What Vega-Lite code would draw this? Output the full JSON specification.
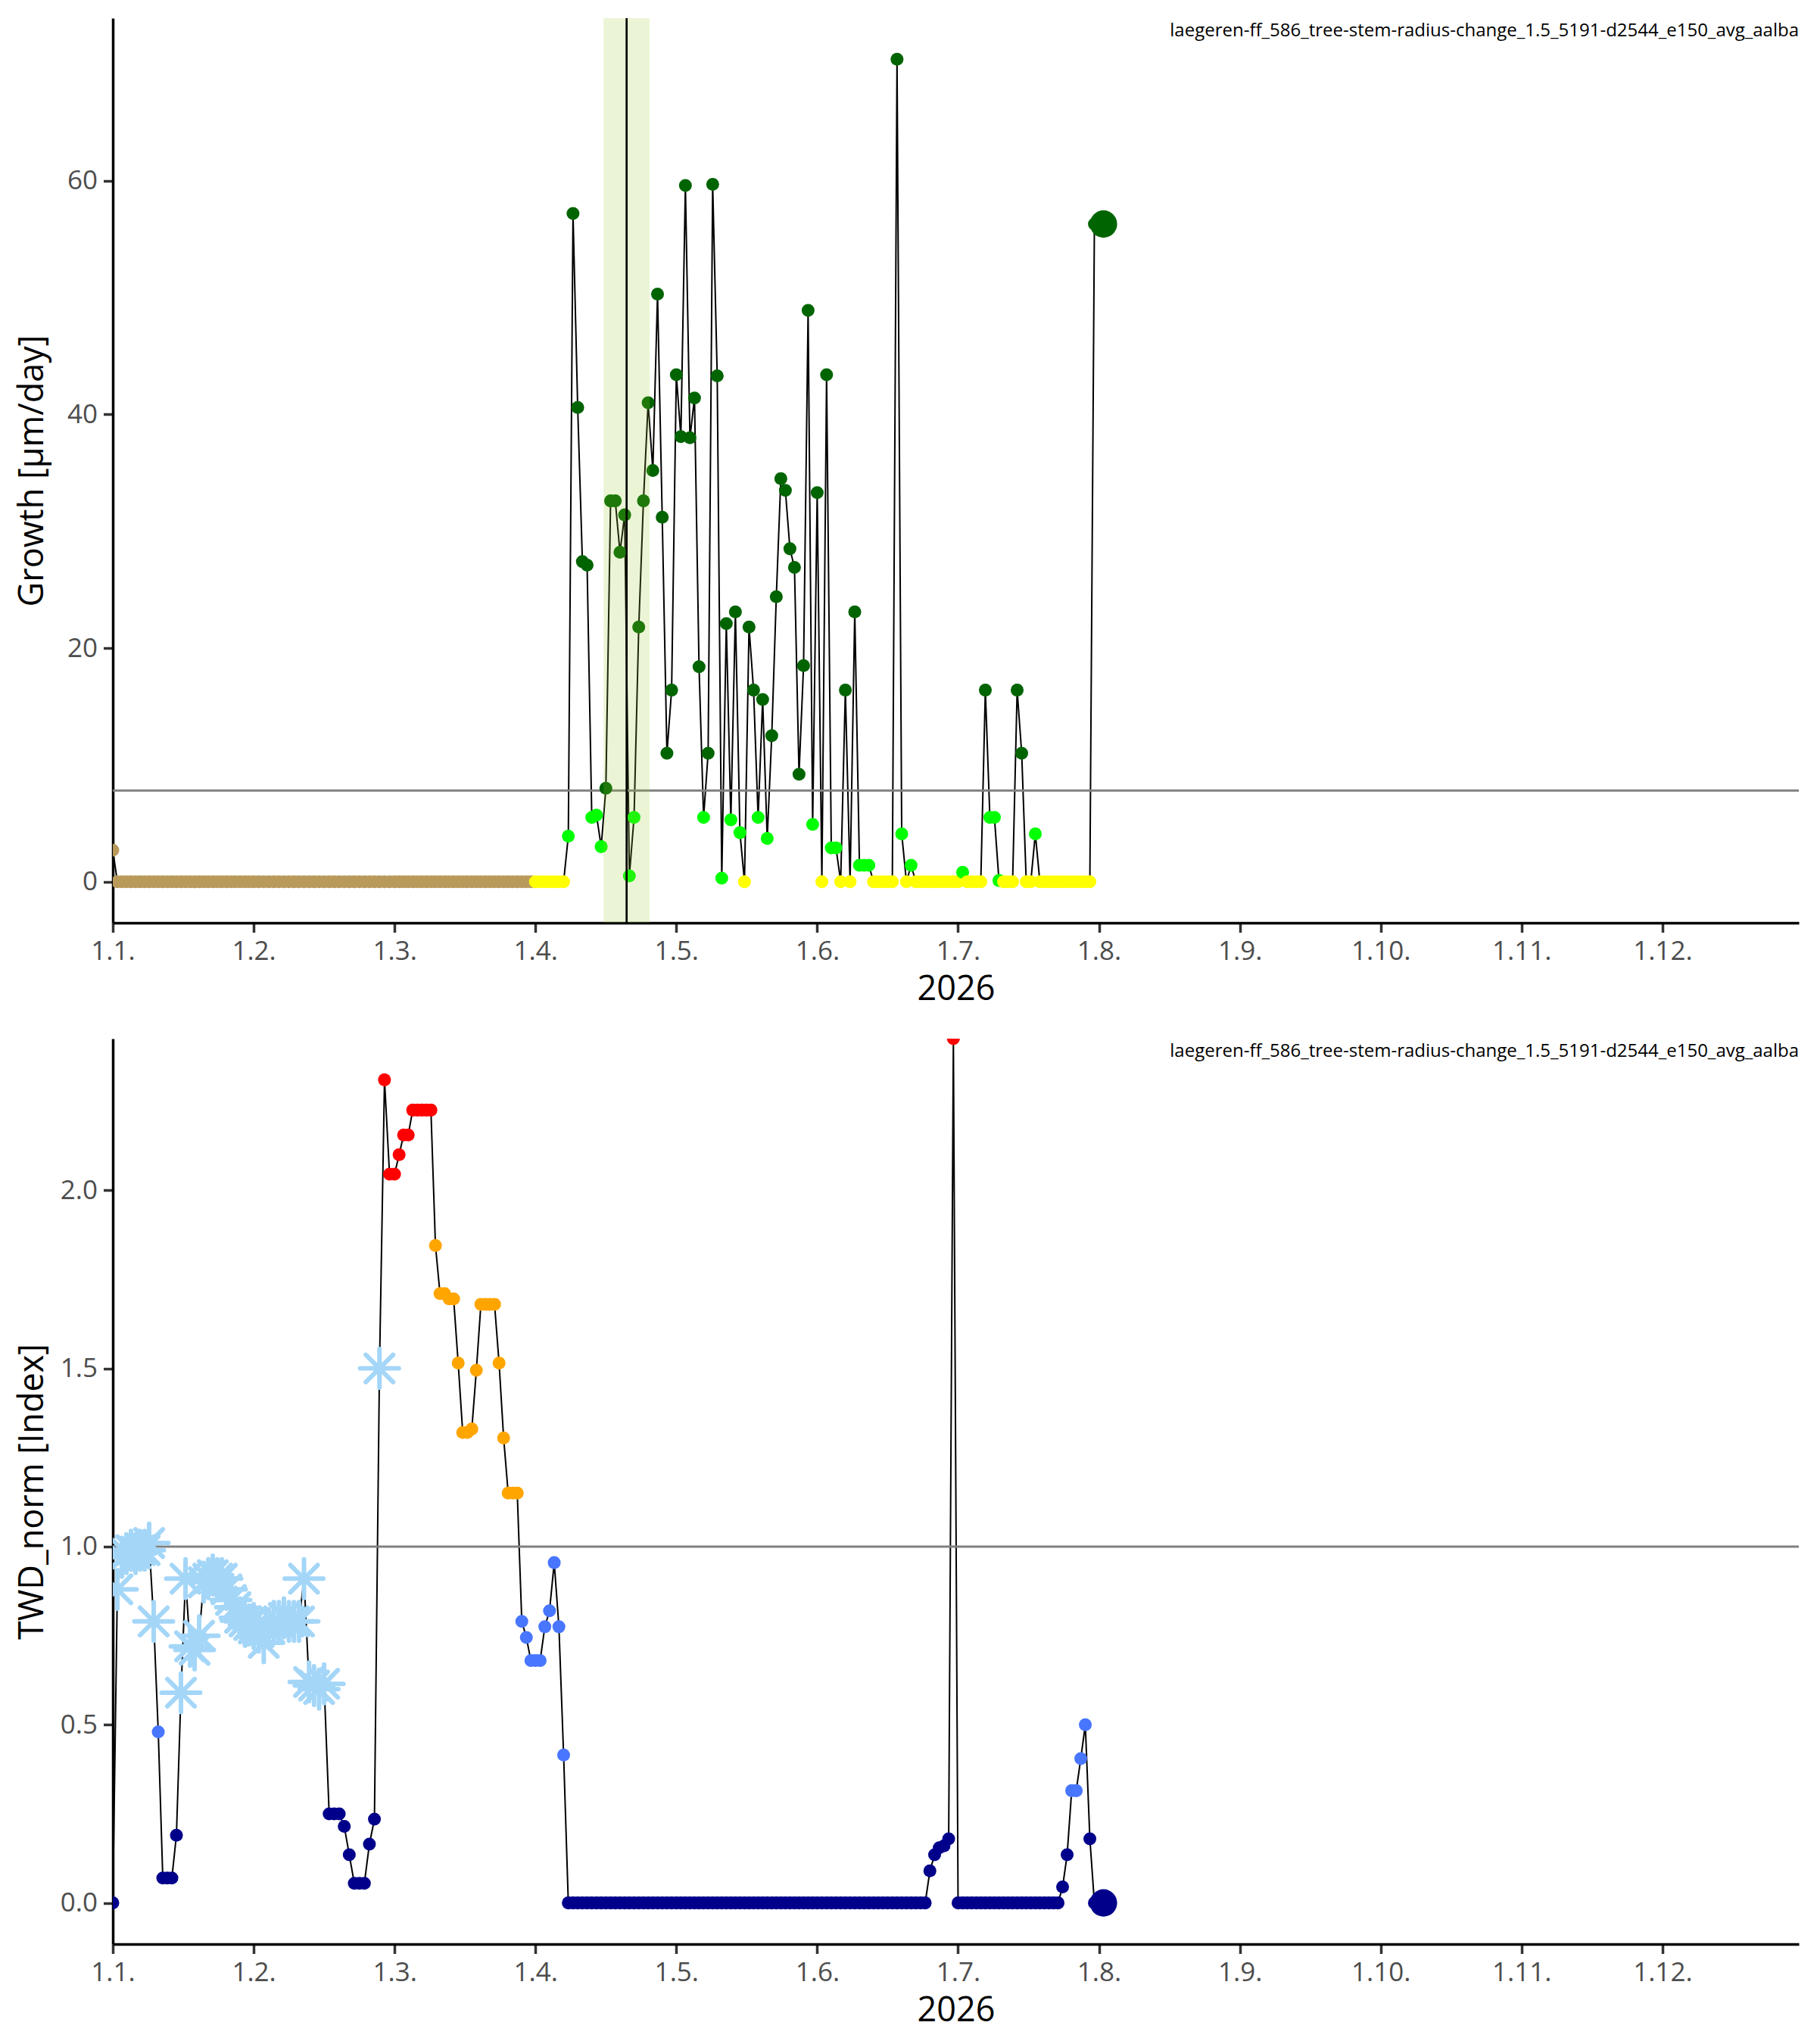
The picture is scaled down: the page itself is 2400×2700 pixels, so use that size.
{
  "$schema": "https://vega.github.io/schema/vega-lite/v6.json",
  "background": "white",
  "padding": {"left": 20, "top": 22, "right": 5, "bottom": 5},
  "spacing": 42,
  "config": {
    "view": {"stroke": null},
    "font": "Open Sans",
    "axis": {
      "grid": false,
      "domainColor": "black",
      "domainWidth": 3.5,
      "tickColor": "#333333",
      "tickWidth": 3.5,
      "tickSize": 12.5,
      "labelColor": "#4d4d4d",
      "labelFontSize": 35,
      "labelPadding": 8,
      "titleColor": "black",
      "titleFontSize": 45,
      "titleFontWeight": "normal"
    }
  },
  "resolve": {"scale": {"color": "independent"}},
  "datasets": {
    "days": [
      {"d":"2026-01-01","g":2.7,"gc":"dormant","t":0,"tc":"low"},
      {"d":"2026-01-02","g":0,"gc":"dormant","t":0.88,"tc":"frost"},
      {"d":"2026-01-03","g":0,"gc":"dormant","t":0.97,"tc":"frost"},
      {"d":"2026-01-04","g":0,"gc":"dormant","t":0.98,"tc":"frost"},
      {"d":"2026-01-05","g":0,"gc":"dormant","t":0.99,"tc":"frost"},
      {"d":"2026-01-06","g":0,"gc":"dormant","t":0.98,"tc":"frost"},
      {"d":"2026-01-07","g":0,"gc":"dormant","t":0.99,"tc":"frost"},
      {"d":"2026-01-08","g":0,"gc":"dormant","t":0.99,"tc":"frost"},
      {"d":"2026-01-09","g":0,"gc":"dormant","t":1.01,"tc":"frost"},
      {"d":"2026-01-10","g":0,"gc":"dormant","t":0.79,"tc":"frost"},
      {"d":"2026-01-11","g":0,"gc":"dormant","t":0.48,"tc":"mid"},
      {"d":"2026-01-12","g":0,"gc":"dormant","t":0.07,"tc":"low"},
      {"d":"2026-01-13","g":0,"gc":"dormant","t":0.07,"tc":"low"},
      {"d":"2026-01-14","g":0,"gc":"dormant","t":0.07,"tc":"low"},
      {"d":"2026-01-15","g":0,"gc":"dormant","t":0.19,"tc":"low"},
      {"d":"2026-01-16","g":0,"gc":"dormant","t":0.59,"tc":"frost"},
      {"d":"2026-01-17","g":0,"gc":"dormant","t":0.91,"tc":"frost"},
      {"d":"2026-01-18","g":0,"gc":"dormant","t":0.72,"tc":"frost"},
      {"d":"2026-01-19","g":0,"gc":"dormant","t":0.71,"tc":"frost"},
      {"d":"2026-01-20","g":0,"gc":"dormant","t":0.75,"tc":"frost"},
      {"d":"2026-01-21","g":0,"gc":"dormant","t":0.9,"tc":"frost"},
      {"d":"2026-01-22","g":0,"gc":"dormant","t":0.91,"tc":"frost"},
      {"d":"2026-01-23","g":0,"gc":"dormant","t":0.92,"tc":"frost"},
      {"d":"2026-01-24","g":0,"gc":"dormant","t":0.91,"tc":"frost"},
      {"d":"2026-01-25","g":0,"gc":"dormant","t":0.91,"tc":"frost"},
      {"d":"2026-01-26","g":0,"gc":"dormant","t":0.88,"tc":"frost"},
      {"d":"2026-01-27","g":0,"gc":"dormant","t":0.85,"tc":"frost"},
      {"d":"2026-01-28","g":0,"gc":"dormant","t":0.83,"tc":"frost"},
      {"d":"2026-01-29","g":0,"gc":"dormant","t":0.8,"tc":"frost"},
      {"d":"2026-01-30","g":0,"gc":"dormant","t":0.79,"tc":"frost"},
      {"d":"2026-01-31","g":0,"gc":"dormant","t":0.78,"tc":"frost"},
      {"d":"2026-02-01","g":0,"gc":"dormant","t":0.77,"tc":"frost"},
      {"d":"2026-02-02","g":0,"gc":"dormant","t":0.76,"tc":"frost"},
      {"d":"2026-02-03","g":0,"gc":"dormant","t":0.73,"tc":"frost"},
      {"d":"2026-02-04","g":0,"gc":"dormant","t":0.77,"tc":"frost"},
      {"d":"2026-02-05","g":0,"gc":"dormant","t":0.79,"tc":"frost"},
      {"d":"2026-02-06","g":0,"gc":"dormant","t":0.79,"tc":"frost"},
      {"d":"2026-02-07","g":0,"gc":"dormant","t":0.8,"tc":"frost"},
      {"d":"2026-02-08","g":0,"gc":"dormant","t":0.79,"tc":"frost"},
      {"d":"2026-02-09","g":0,"gc":"dormant","t":0.79,"tc":"frost"},
      {"d":"2026-02-10","g":0,"gc":"dormant","t":0.79,"tc":"frost"},
      {"d":"2026-02-11","g":0,"gc":"dormant","t":0.91,"tc":"frost"},
      {"d":"2026-02-12","g":0,"gc":"dormant","t":0.62,"tc":"frost"},
      {"d":"2026-02-13","g":0,"gc":"dormant","t":0.61,"tc":"frost"},
      {"d":"2026-02-14","g":0,"gc":"dormant","t":0.6,"tc":"frost"},
      {"d":"2026-02-15","g":0,"gc":"dormant","t":0.615,"tc":"frost"},
      {"d":"2026-02-16","g":0,"gc":"dormant","t":0.25,"tc":"low"},
      {"d":"2026-02-17","g":0,"gc":"dormant","t":0.25,"tc":"low"},
      {"d":"2026-02-18","g":0,"gc":"dormant","t":0.25,"tc":"low"},
      {"d":"2026-02-19","g":0,"gc":"dormant","t":0.215,"tc":"low"},
      {"d":"2026-02-20","g":0,"gc":"dormant","t":0.135,"tc":"low"},
      {"d":"2026-02-21","g":0,"gc":"dormant","t":0.055,"tc":"low"},
      {"d":"2026-02-22","g":0,"gc":"dormant","t":0.055,"tc":"low"},
      {"d":"2026-02-23","g":0,"gc":"dormant","t":0.055,"tc":"low"},
      {"d":"2026-02-24","g":0,"gc":"dormant","t":0.165,"tc":"low"},
      {"d":"2026-02-25","g":0,"gc":"dormant","t":0.235,"tc":"low"},
      {"d":"2026-02-26","g":0,"gc":"dormant","t":1.5,"tc":"frost"},
      {"d":"2026-02-27","g":0,"gc":"dormant","t":2.31,"tc":"max"},
      {"d":"2026-02-28","g":0,"gc":"dormant","t":2.045,"tc":"max"},
      {"d":"2026-03-01","g":0,"gc":"dormant","t":2.045,"tc":"max"},
      {"d":"2026-03-02","g":0,"gc":"dormant","t":2.1,"tc":"max"},
      {"d":"2026-03-03","g":0,"gc":"dormant","t":2.155,"tc":"max"},
      {"d":"2026-03-04","g":0,"gc":"dormant","t":2.155,"tc":"max"},
      {"d":"2026-03-05","g":0,"gc":"dormant","t":2.225,"tc":"max"},
      {"d":"2026-03-06","g":0,"gc":"dormant","t":2.225,"tc":"max"},
      {"d":"2026-03-07","g":0,"gc":"dormant","t":2.225,"tc":"max"},
      {"d":"2026-03-08","g":0,"gc":"dormant","t":2.225,"tc":"max"},
      {"d":"2026-03-09","g":0,"gc":"dormant","t":2.225,"tc":"max"},
      {"d":"2026-03-10","g":0,"gc":"dormant","t":1.845,"tc":"high"},
      {"d":"2026-03-11","g":0,"gc":"dormant","t":1.71,"tc":"high"},
      {"d":"2026-03-12","g":0,"gc":"dormant","t":1.71,"tc":"high"},
      {"d":"2026-03-13","g":0,"gc":"dormant","t":1.695,"tc":"high"},
      {"d":"2026-03-14","g":0,"gc":"dormant","t":1.695,"tc":"high"},
      {"d":"2026-03-15","g":0,"gc":"dormant","t":1.515,"tc":"high"},
      {"d":"2026-03-16","g":0,"gc":"dormant","t":1.32,"tc":"high"},
      {"d":"2026-03-17","g":0,"gc":"dormant","t":1.32,"tc":"high"},
      {"d":"2026-03-18","g":0,"gc":"dormant","t":1.33,"tc":"high"},
      {"d":"2026-03-19","g":0,"gc":"dormant","t":1.495,"tc":"high"},
      {"d":"2026-03-20","g":0,"gc":"dormant","t":1.68,"tc":"high"},
      {"d":"2026-03-21","g":0,"gc":"dormant","t":1.68,"tc":"high"},
      {"d":"2026-03-22","g":0,"gc":"dormant","t":1.68,"tc":"high"},
      {"d":"2026-03-23","g":0,"gc":"dormant","t":1.68,"tc":"high"},
      {"d":"2026-03-24","g":0,"gc":"dormant","t":1.515,"tc":"high"},
      {"d":"2026-03-25","g":0,"gc":"dormant","t":1.305,"tc":"high"},
      {"d":"2026-03-26","g":0,"gc":"dormant","t":1.15,"tc":"high"},
      {"d":"2026-03-27","g":0,"gc":"dormant","t":1.15,"tc":"high"},
      {"d":"2026-03-28","g":0,"gc":"dormant","t":1.15,"tc":"high"},
      {"d":"2026-03-29","g":0,"gc":"dormant","t":0.79,"tc":"mid"},
      {"d":"2026-03-30","g":0,"gc":"dormant","t":0.745,"tc":"mid"},
      {"d":"2026-03-31","g":0,"gc":"dormant","t":0.68,"tc":"mid"},
      {"d":"2026-04-01","g":0,"gc":"zero","t":0.68,"tc":"mid"},
      {"d":"2026-04-02","g":0,"gc":"zero","t":0.68,"tc":"mid"},
      {"d":"2026-04-03","g":0,"gc":"zero","t":0.775,"tc":"mid"},
      {"d":"2026-04-04","g":0,"gc":"zero","t":0.82,"tc":"mid"},
      {"d":"2026-04-05","g":0,"gc":"zero","t":0.955,"tc":"mid"},
      {"d":"2026-04-06","g":0,"gc":"zero","t":0.775,"tc":"mid"},
      {"d":"2026-04-07","g":0,"gc":"zero","t":0.415,"tc":"mid"},
      {"d":"2026-04-08","g":3.9,"gc":"low","t":0,"tc":"low"},
      {"d":"2026-04-09","g":57.2,"gc":"high","t":0,"tc":"low"},
      {"d":"2026-04-10","g":40.6,"gc":"high","t":0,"tc":"low"},
      {"d":"2026-04-11","g":27.4,"gc":"high","t":0,"tc":"low"},
      {"d":"2026-04-12","g":27.1,"gc":"high","t":0,"tc":"low"},
      {"d":"2026-04-13","g":5.5,"gc":"low","t":0,"tc":"low"},
      {"d":"2026-04-14","g":5.7,"gc":"low","t":0,"tc":"low"},
      {"d":"2026-04-15","g":3.0,"gc":"low","t":0,"tc":"low"},
      {"d":"2026-04-16","g":8.0,"gc":"high","t":0,"tc":"low"},
      {"d":"2026-04-17","g":32.6,"gc":"high","t":0,"tc":"low"},
      {"d":"2026-04-18","g":32.6,"gc":"high","t":0,"tc":"low"},
      {"d":"2026-04-19","g":28.2,"gc":"high","t":0,"tc":"low"},
      {"d":"2026-04-20","g":31.4,"gc":"high","t":0,"tc":"low"},
      {"d":"2026-04-21","g":0.5,"gc":"low","t":0,"tc":"low"},
      {"d":"2026-04-22","g":5.5,"gc":"low","t":0,"tc":"low"},
      {"d":"2026-04-23","g":21.8,"gc":"high","t":0,"tc":"low"},
      {"d":"2026-04-24","g":32.6,"gc":"high","t":0,"tc":"low"},
      {"d":"2026-04-25","g":41.0,"gc":"high","t":0,"tc":"low"},
      {"d":"2026-04-26","g":35.2,"gc":"high","t":0,"tc":"low"},
      {"d":"2026-04-27","g":50.3,"gc":"high","t":0,"tc":"low"},
      {"d":"2026-04-28","g":31.2,"gc":"high","t":0,"tc":"low"},
      {"d":"2026-04-29","g":11.0,"gc":"high","t":0,"tc":"low"},
      {"d":"2026-04-30","g":16.4,"gc":"high","t":0,"tc":"low"},
      {"d":"2026-05-01","g":43.4,"gc":"high","t":0,"tc":"low"},
      {"d":"2026-05-02","g":38.1,"gc":"high","t":0,"tc":"low"},
      {"d":"2026-05-03","g":59.6,"gc":"high","t":0,"tc":"low"},
      {"d":"2026-05-04","g":38.0,"gc":"high","t":0,"tc":"low"},
      {"d":"2026-05-05","g":41.4,"gc":"high","t":0,"tc":"low"},
      {"d":"2026-05-06","g":18.4,"gc":"high","t":0,"tc":"low"},
      {"d":"2026-05-07","g":5.5,"gc":"low","t":0,"tc":"low"},
      {"d":"2026-05-08","g":11.0,"gc":"high","t":0,"tc":"low"},
      {"d":"2026-05-09","g":59.7,"gc":"high","t":0,"tc":"low"},
      {"d":"2026-05-10","g":43.3,"gc":"high","t":0,"tc":"low"},
      {"d":"2026-05-11","g":0.3,"gc":"low","t":0,"tc":"low"},
      {"d":"2026-05-12","g":22.1,"gc":"high","t":0,"tc":"low"},
      {"d":"2026-05-13","g":5.3,"gc":"low","t":0,"tc":"low"},
      {"d":"2026-05-14","g":23.1,"gc":"high","t":0,"tc":"low"},
      {"d":"2026-05-15","g":4.2,"gc":"low","t":0,"tc":"low"},
      {"d":"2026-05-16","g":0,"gc":"zero","t":0,"tc":"low"},
      {"d":"2026-05-17","g":21.8,"gc":"high","t":0,"tc":"low"},
      {"d":"2026-05-18","g":16.4,"gc":"high","t":0,"tc":"low"},
      {"d":"2026-05-19","g":5.5,"gc":"low","t":0,"tc":"low"},
      {"d":"2026-05-20","g":15.6,"gc":"high","t":0,"tc":"low"},
      {"d":"2026-05-21","g":3.7,"gc":"low","t":0,"tc":"low"},
      {"d":"2026-05-22","g":12.5,"gc":"high","t":0,"tc":"low"},
      {"d":"2026-05-23","g":24.4,"gc":"high","t":0,"tc":"low"},
      {"d":"2026-05-24","g":34.5,"gc":"high","t":0,"tc":"low"},
      {"d":"2026-05-25","g":33.5,"gc":"high","t":0,"tc":"low"},
      {"d":"2026-05-26","g":28.5,"gc":"high","t":0,"tc":"low"},
      {"d":"2026-05-27","g":26.9,"gc":"high","t":0,"tc":"low"},
      {"d":"2026-05-28","g":9.2,"gc":"high","t":0,"tc":"low"},
      {"d":"2026-05-29","g":18.5,"gc":"high","t":0,"tc":"low"},
      {"d":"2026-05-30","g":48.9,"gc":"high","t":0,"tc":"low"},
      {"d":"2026-05-31","g":4.9,"gc":"low","t":0,"tc":"low"},
      {"d":"2026-06-01","g":33.3,"gc":"high","t":0,"tc":"low"},
      {"d":"2026-06-02","g":0,"gc":"zero","t":0,"tc":"low"},
      {"d":"2026-06-03","g":43.4,"gc":"high","t":0,"tc":"low"},
      {"d":"2026-06-04","g":2.9,"gc":"low","t":0,"tc":"low"},
      {"d":"2026-06-05","g":2.9,"gc":"low","t":0,"tc":"low"},
      {"d":"2026-06-06","g":0,"gc":"zero","t":0,"tc":"low"},
      {"d":"2026-06-07","g":16.4,"gc":"high","t":0,"tc":"low"},
      {"d":"2026-06-08","g":0,"gc":"zero","t":0,"tc":"low"},
      {"d":"2026-06-09","g":23.1,"gc":"high","t":0,"tc":"low"},
      {"d":"2026-06-10","g":1.4,"gc":"low","t":0,"tc":"low"},
      {"d":"2026-06-11","g":1.4,"gc":"low","t":0,"tc":"low"},
      {"d":"2026-06-12","g":1.4,"gc":"low","t":0,"tc":"low"},
      {"d":"2026-06-13","g":0,"gc":"zero","t":0,"tc":"low"},
      {"d":"2026-06-14","g":0,"gc":"zero","t":0,"tc":"low"},
      {"d":"2026-06-15","g":0,"gc":"zero","t":0,"tc":"low"},
      {"d":"2026-06-16","g":0,"gc":"zero","t":0,"tc":"low"},
      {"d":"2026-06-17","g":0,"gc":"zero","t":0,"tc":"low"},
      {"d":"2026-06-18","g":70.4,"gc":"high","t":0,"tc":"low"},
      {"d":"2026-06-19","g":4.1,"gc":"low","t":0,"tc":"low"},
      {"d":"2026-06-20","g":0,"gc":"zero","t":0,"tc":"low"},
      {"d":"2026-06-21","g":1.4,"gc":"low","t":0,"tc":"low"},
      {"d":"2026-06-22","g":0,"gc":"zero","t":0,"tc":"low"},
      {"d":"2026-06-23","g":0,"gc":"zero","t":0,"tc":"low"},
      {"d":"2026-06-24","g":0,"gc":"zero","t":0,"tc":"low"},
      {"d":"2026-06-25","g":0,"gc":"zero","t":0.09,"tc":"low"},
      {"d":"2026-06-26","g":0,"gc":"zero","t":0.135,"tc":"low"},
      {"d":"2026-06-27","g":0,"gc":"zero","t":0.155,"tc":"low"},
      {"d":"2026-06-28","g":0,"gc":"zero","t":0.16,"tc":"low"},
      {"d":"2026-06-29","g":0,"gc":"zero","t":0.18,"tc":"low"},
      {"d":"2026-06-30","g":0,"gc":"zero","t":3.42,"tc":"max"},
      {"d":"2026-07-01","g":0,"gc":"zero","t":0,"tc":"low"},
      {"d":"2026-07-02","g":0.8,"gc":"low","t":0,"tc":"low"},
      {"d":"2026-07-03","g":0,"gc":"zero","t":0,"tc":"low"},
      {"d":"2026-07-04","g":0,"gc":"zero","t":0,"tc":"low"},
      {"d":"2026-07-05","g":0,"gc":"zero","t":0,"tc":"low"},
      {"d":"2026-07-06","g":0,"gc":"zero","t":0,"tc":"low"},
      {"d":"2026-07-07","g":16.4,"gc":"high","t":0,"tc":"low"},
      {"d":"2026-07-08","g":5.5,"gc":"low","t":0,"tc":"low"},
      {"d":"2026-07-09","g":5.5,"gc":"low","t":0,"tc":"low"},
      {"d":"2026-07-10","g":0.1,"gc":"low","t":0,"tc":"low"},
      {"d":"2026-07-11","g":0,"gc":"zero","t":0,"tc":"low"},
      {"d":"2026-07-12","g":0,"gc":"zero","t":0,"tc":"low"},
      {"d":"2026-07-13","g":0,"gc":"zero","t":0,"tc":"low"},
      {"d":"2026-07-14","g":16.4,"gc":"high","t":0,"tc":"low"},
      {"d":"2026-07-15","g":11.0,"gc":"high","t":0,"tc":"low"},
      {"d":"2026-07-16","g":0,"gc":"zero","t":0,"tc":"low"},
      {"d":"2026-07-17","g":0,"gc":"zero","t":0,"tc":"low"},
      {"d":"2026-07-18","g":4.1,"gc":"low","t":0,"tc":"low"},
      {"d":"2026-07-19","g":0,"gc":"zero","t":0,"tc":"low"},
      {"d":"2026-07-20","g":0,"gc":"zero","t":0,"tc":"low"},
      {"d":"2026-07-21","g":0,"gc":"zero","t":0,"tc":"low"},
      {"d":"2026-07-22","g":0,"gc":"zero","t":0,"tc":"low"},
      {"d":"2026-07-23","g":0,"gc":"zero","t":0,"tc":"low"},
      {"d":"2026-07-24","g":0,"gc":"zero","t":0.045,"tc":"low"},
      {"d":"2026-07-25","g":0,"gc":"zero","t":0.135,"tc":"low"},
      {"d":"2026-07-26","g":0,"gc":"zero","t":0.315,"tc":"mid"},
      {"d":"2026-07-27","g":0,"gc":"zero","t":0.315,"tc":"mid"},
      {"d":"2026-07-28","g":0,"gc":"zero","t":0.405,"tc":"mid"},
      {"d":"2026-07-29","g":0,"gc":"zero","t":0.5,"tc":"mid"},
      {"d":"2026-07-30","g":0,"gc":"zero","t":0.18,"tc":"low"},
      {"d":"2026-07-31","g":56.3,"gc":"high","t":0,"tc":"low"}
    ],
    "latest": [
      {"d":"2026-08-02","g":56.3,"gc":"high","t":0,"tc":"low"}
    ],
    "event": [
      {"s":"2026-04-15T12:00:00Z","e":"2026-04-25T08:00:00Z","p":"2026-04-20T10:00:00Z"}
    ]
  },
  "vconcat": [
    {
      "width": 2227,
      "height": 1195,
      "layer": [
        {
          "data": {"name": "days"},
          "transform": [{"calculate": "utcmonth(toDate(datum.d)) + 1 + (utcdate(toDate(datum.d)) - 1 + utchours(toDate(datum.d)) / 24) / utcdate(utc(utcyear(toDate(datum.d)), utcmonth(toDate(datum.d)) + 1, 0))", "as": "m"}],
          "mark": {"type": "line", "color": "black", "strokeWidth": 2, "clip": true},
          "encoding": {
            "x": {"field": "m", "type": "quantitative",
              "scale": {"domain": [1, 12.968], "nice": false, "zero": false},
              "axis": {"values": [1,2,3,4,5,6,7,8,9,10,11,12], "labelExpr": "'1.' + datum.value + '.'", "labelFlush": false, "labelOverlap": false, "title": "2026", "titlePadding": 10}},
            "y": {"field": "g", "type": "quantitative",
              "scale": {"domain": [-3.52, 73.92], "nice": false, "zero": false},
              "axis": {"values": [0, 20, 40, 60], "title": "Growth [µm/day]", "titleX": -107, "titleBaseline": "middle"}}
          }
        },
        {
          "data": {"values": [{}]},
          "mark": {"type": "rule", "color": "#808080", "strokeWidth": 3},
          "encoding": {"y": {"datum": 7.8, "type": "quantitative"}}
        },
        {
          "data": {"name": "days"},
          "transform": [{"calculate": "utcmonth(toDate(datum.d)) + 1 + (utcdate(toDate(datum.d)) - 1 + utchours(toDate(datum.d)) / 24) / utcdate(utc(utcyear(toDate(datum.d)), utcmonth(toDate(datum.d)) + 1, 0))", "as": "m"}],
          "mark": {"type": "point", "filled": true, "opacity": 1, "size": 290, "clip": true},
          "encoding": {
            "x": {"field": "m", "type": "quantitative"},
            "y": {"field": "g", "type": "quantitative"},
            "color": {"field": "gc", "type": "nominal", "legend": null,
              "scale": {"domain": ["dormant", "zero", "low", "high"], "range": ["#B99A5B", "#FFFF00", "#00FF00", "#006400"]}}
          }
        },
        {
          "data": {"name": "latest"},
          "transform": [{"calculate": "utcmonth(toDate(datum.d)) + 1 + (utcdate(toDate(datum.d)) - 1 + utchours(toDate(datum.d)) / 24) / utcdate(utc(utcyear(toDate(datum.d)), utcmonth(toDate(datum.d)) + 1, 0))", "as": "m"}],
          "mark": {"type": "point", "filled": true, "opacity": 1, "size": 1300, "clip": true},
          "encoding": {
            "x": {"field": "m", "type": "quantitative"},
            "y": {"field": "g", "type": "quantitative"},
            "color": {"field": "gc", "type": "nominal", "legend": null}
          }
        },
        {
          "data": {"name": "event"},
          "transform": [
            {"calculate": "utcmonth(toDate(datum.s)) + 1 + (utcdate(toDate(datum.s)) - 1 + utchours(toDate(datum.s)) / 24) / utcdate(utc(utcyear(toDate(datum.s)), utcmonth(toDate(datum.s)) + 1, 0))", "as": "ms"},
            {"calculate": "utcmonth(toDate(datum.e)) + 1 + (utcdate(toDate(datum.e)) - 1 + utchours(toDate(datum.e)) / 24) / utcdate(utc(utcyear(toDate(datum.e)), utcmonth(toDate(datum.e)) + 1, 0))", "as": "me"}
          ],
          "mark": {"type": "rect", "color": "#9ACD32", "opacity": 0.2},
          "encoding": {
            "x": {"field": "ms", "type": "quantitative"},
            "x2": {"field": "me"}
          }
        },
        {
          "data": {"name": "event"},
          "transform": [
            {"calculate": "utcmonth(toDate(datum.p)) + 1 + (utcdate(toDate(datum.p)) - 1 + utchours(toDate(datum.p)) / 24) / utcdate(utc(utcyear(toDate(datum.p)), utcmonth(toDate(datum.p)) + 1, 0))", "as": "mp"}
          ],
          "mark": {"type": "rule", "color": "black", "strokeWidth": 2.7},
          "encoding": {"x": {"field": "mp", "type": "quantitative"}}
        },
        {
          "data": {"values": [{}]},
          "mark": {"type": "text", "align": "right", "baseline": "top", "dy": 5, "fontSize": 24, "color": "black"},
          "encoding": {
            "x": {"datum": 12.968, "type": "quantitative"},
            "y": {"datum": 73.92, "type": "quantitative"},
            "text": {"value": "laegeren-ff_586_tree-stem-radius-change_1.5_5191-d2544_e150_avg_aalba"}
          }
        }
      ]
    },
    {
      "width": 2227,
      "height": 1196,
      "layer": [
        {
          "data": {"name": "days"},
          "transform": [{"calculate": "utcmonth(toDate(datum.d)) + 1 + (utcdate(toDate(datum.d)) - 1 + utchours(toDate(datum.d)) / 24) / utcdate(utc(utcyear(toDate(datum.d)), utcmonth(toDate(datum.d)) + 1, 0))", "as": "m"}],
          "mark": {"type": "line", "color": "black", "strokeWidth": 2, "clip": true},
          "encoding": {
            "x": {"field": "m", "type": "quantitative",
              "scale": {"domain": [1, 12.968], "nice": false, "zero": false},
              "axis": {"values": [1,2,3,4,5,6,7,8,9,10,11,12], "labelExpr": "'1.' + datum.value + '.'", "labelFlush": false, "labelOverlap": false, "title": "2026", "titlePadding": 10}},
            "y": {"field": "t", "type": "quantitative",
              "scale": {"domain": [-0.1155, 2.4255], "nice": false, "zero": false, "clamp": true},
              "axis": {"values": [0, 0.5, 1, 1.5, 2], "format": ".1f", "title": "TWD_norm [Index]", "titleX": -107, "titleBaseline": "middle"}}
          }
        },
        {
          "data": {"values": [{}]},
          "mark": {"type": "rule", "color": "#808080", "strokeWidth": 3},
          "encoding": {"y": {"datum": 1, "type": "quantitative"}}
        },
        {
          "data": {"name": "days"},
          "transform": [
            {"filter": "datum.tc !== 'frost'"},
            {"calculate": "utcmonth(toDate(datum.d)) + 1 + (utcdate(toDate(datum.d)) - 1 + utchours(toDate(datum.d)) / 24) / utcdate(utc(utcyear(toDate(datum.d)), utcmonth(toDate(datum.d)) + 1, 0))", "as": "m"}
          ],
          "mark": {"type": "point", "filled": true, "opacity": 1, "size": 290, "clip": true},
          "encoding": {
            "x": {"field": "m", "type": "quantitative"},
            "y": {"field": "t", "type": "quantitative"},
            "color": {"field": "tc", "type": "nominal", "legend": null,
              "scale": {"domain": ["low", "mid", "high", "max", "frost"], "range": ["#00008B", "#4876FF", "#FFA500", "#FF0000", "#A4D6F8"]}}
          }
        },
        {
          "data": {"name": "days"},
          "transform": [
            {"filter": "datum.tc === 'frost'"},
            {"calculate": "utcmonth(toDate(datum.d)) + 1 + (utcdate(toDate(datum.d)) - 1 + utchours(toDate(datum.d)) / 24) / utcdate(utc(utcyear(toDate(datum.d)), utcmonth(toDate(datum.d)) + 1, 0))", "as": "m"}
          ],
          "mark": {"type": "point", "filled": false, "opacity": 1, "size": 2600, "strokeWidth": 6, "strokeCap": "round", "clip": true,
            "shape": "M-1,0L1,0M0,-1L0,1M-0.707,-0.707L0.707,0.707M-0.707,0.707L0.707,-0.707"},
          "encoding": {
            "x": {"field": "m", "type": "quantitative"},
            "y": {"field": "t", "type": "quantitative"},
            "color": {"field": "tc", "type": "nominal", "legend": null}
          }
        },
        {
          "data": {"name": "latest"},
          "transform": [{"calculate": "utcmonth(toDate(datum.d)) + 1 + (utcdate(toDate(datum.d)) - 1 + utchours(toDate(datum.d)) / 24) / utcdate(utc(utcyear(toDate(datum.d)), utcmonth(toDate(datum.d)) + 1, 0))", "as": "m"}],
          "mark": {"type": "point", "filled": true, "opacity": 1, "size": 1300, "clip": true},
          "encoding": {
            "x": {"field": "m", "type": "quantitative"},
            "y": {"field": "t", "type": "quantitative"},
            "color": {"field": "tc", "type": "nominal", "legend": null}
          }
        },
        {
          "data": {"values": [{}]},
          "mark": {"type": "text", "align": "right", "baseline": "top", "dy": 5, "fontSize": 24, "color": "black"},
          "encoding": {
            "x": {"datum": 12.968, "type": "quantitative"},
            "y": {"datum": 2.4255, "type": "quantitative"},
            "text": {"value": "laegeren-ff_586_tree-stem-radius-change_1.5_5191-d2544_e150_avg_aalba"}
          }
        }
      ]
    }
  ]
}
